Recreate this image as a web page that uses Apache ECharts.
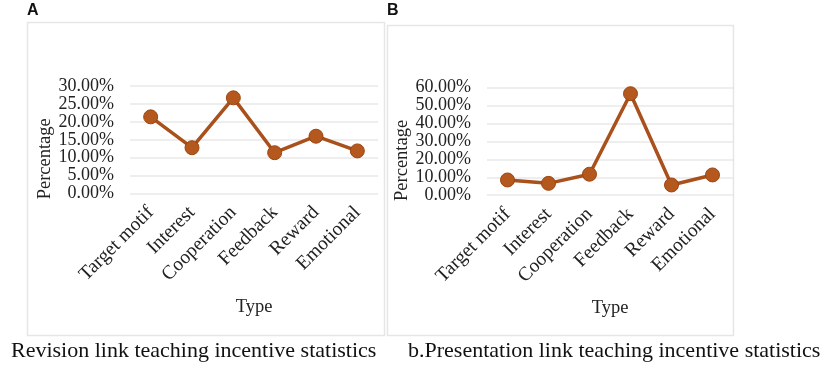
<!DOCTYPE html>
<html><head><meta charset="utf-8">
<script src="https://cdn.jsdelivr.net/npm/echarts@6/dist/echarts.min.js"></script>
<style>html,body{margin:0;padding:0;background:#fff}#c{width:829px;height:367px}</style>
</head><body><div id="c"></div>
<script>
var categories = ['Target motif','Interest','Cooperation','Feedback','Reward','Emotional'];
var revisionValues = [21.4, 12.8, 26.7, 11.4, 16.0, 11.9];
var presentationValues = [8.5, 6.6, 11.7, 56.6, 5.7, 11.3];
var ticksA = [0, 5, 10, 15, 20, 25, 30];
var ticksB = [0, 10, 20, 30, 40, 50, 60];
var captionA = 'Revision link teaching incentive statistics';
var captionB = 'b.Presentation link teaching incentive statistics';

var serif = '"Liberation Serif","Times New Roman",serif';
var lineColor = '#A9501B';
function xAxis(idx){
  return {gridIndex: idx, type:'category', data: categories, boundaryGap:true,
    axisLine:{show:false}, axisTick:{show:false},
    axisLabel:{rotate:45, interval:0, fontFamily:serif, fontSize:19.5, color:'#222', margin:16},
    name:'Type', nameLocation:'middle', nameGap: idx===0?104:103,
    nameTextStyle:{fontFamily:serif, fontSize:18.5, color:'#222'}};
}
function yAxis(idx, ticks){
  return {gridIndex: idx, type:'value', min:ticks[0], max:ticks[ticks.length-1], interval:ticks[1]-ticks[0],
    axisLine:{show:false}, axisTick:{show:false},
    splitLine:{lineStyle:{color:'#e9e9e9', width:1.5}},
    axisLabel:{fontFamily:serif, fontSize:18, color:'#222', margin:16,
      showMinLabel:true, showMaxLabel:true, hideOverlap:false,
      formatter:function(v){return v.toFixed(2)+'%';}},
    name:'Percentage', nameLocation:'middle', nameGap: idx===0?74:70, nameRotate:90,
    nameTextStyle:{fontFamily:serif, fontSize:18.5, color:'#222', padding:[0,38,0,0]}};
}
function series(idx, data){
  return {type:'line', xAxisIndex:idx, yAxisIndex:idx, data:data,
    symbol:'circle', symbolSize:14, lineStyle:{color:lineColor, width:3.5},
    itemStyle:{color:'#B4581E', borderColor:'#9C4510', borderWidth:1}, z:3};
}
var chart = echarts.init(document.getElementById('c'), null, {renderer:'canvas'});
chart.setOption({
  animation:false,
  grid:[{left:130, right:451, top:86, height:107.6},
        {left:487, right:96, top:87.6, height:107.6}],
  xAxis:[xAxis(0), xAxis(1)],
  yAxis:[yAxis(0,ticksA), yAxis(1,ticksB)],
  series:[series(0, revisionValues), series(1, presentationValues)],
  graphic:[
    {type:'rect', shape:{x:27.5, y:22.5, width:357, height:313}, style:{fill:'none', stroke:'#e6e6e6', lineWidth:1.5}, z:-1},
    {type:'rect', shape:{x:387.5, y:25.5, width:346, height:310}, style:{fill:'none', stroke:'#e6e6e6', lineWidth:1.5}, z:-1},
    {type:'text', left:27, top:3, style:{text:'A', font:'bold 16px "Liberation Sans",Arial,sans-serif', fill:'#111'}},
    {type:'text', left:387, top:3, style:{text:'B', font:'bold 16px "Liberation Sans",Arial,sans-serif', fill:'#111'}},
    {type:'text', left:11, top:340, style:{text:captionA, font:'22px '+serif, fill:'#111'}},
    {type:'text', left:408, top:340, style:{text:captionB, font:'22px '+serif, fill:'#111'}}
  ]
});
</script></body></html>
